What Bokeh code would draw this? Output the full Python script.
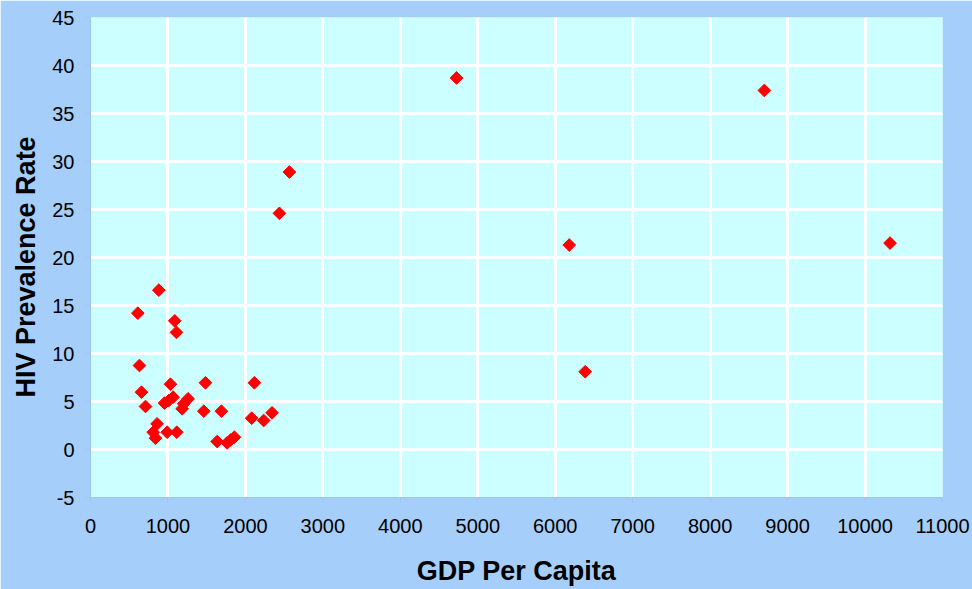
import numpy as np
from bokeh.plotting import figure
from bokeh.models import ColumnDataSource, FixedTicker, Range1d, Title
from bokeh.embed import file_html
from bokeh.resources import INLINE

# GDP per capita (x) and HIV prevalence rate (y)
gdp = [4726, 8700, 10323, 6181, 6387, 2568, 2439,
       882, 611, 1088, 1110, 632, 1032, 1484, 2116, 658, 710,
       1067, 1011, 955, 1260, 1204, 1183, 1463, 1690, 2081, 2236, 2344,
       860, 809, 839, 990, 1114, 1635, 1764, 1810, 1858]
hiv = [38.7, 37.4, 21.5, 21.3, 8.1, 28.9, 24.6,
       16.6, 14.2, 13.4, 12.2, 8.75, 6.8, 6.95, 6.95, 5.97, 4.48,
       5.45, 5.1, 4.83, 5.28, 4.76, 4.24, 3.99, 3.99, 3.26, 3.02, 3.82,
       2.67, 1.8, 1.18, 1.8, 1.8, 0.83, 0.69, 1.0, 1.28]

x_ticks = list(range(0, 11001, 1000))
y_ticks = list(range(-5, 46, 5))

src = ColumnDataSource(dict(x=gdp, y=hiv))

p = figure(width=972, height=589, output_backend="svg", toolbar_location=None,
           x_range=Range1d(0, 11000), y_range=Range1d(-5, 45),
           min_border_left=90, min_border_right=30, min_border_top=17, min_border_bottom=92)

p.border_fill_color = "#A6CEFB"
p.background_fill_color = "#CCFFFF"
p.outline_line_color = None

p.scatter("x", "y", source=src, marker="square", size=9, angle=np.pi / 4,
          fill_color="#FF0000", line_color="#FF0000")

p.xaxis.ticker = FixedTicker(ticks=x_ticks)
p.yaxis.ticker = FixedTicker(ticks=y_ticks)
p.yaxis.major_label_overrides = {t: str(t) for t in y_ticks}

for g in (p.xgrid, p.ygrid):
    g.grid_line_color = "white"
    g.grid_line_width = 3

for ax in (p.xaxis, p.yaxis):
    ax.axis_line_color = "#9CC6F2"
    ax.major_tick_line_color = "#9CC6F2"
    ax.major_tick_out = 5
    ax.major_tick_in = 0
    ax.minor_tick_line_color = None
    ax.major_label_text_font = "Liberation Sans"
    ax.major_label_text_font_size = "20px"
    ax.major_label_text_color = "black"
    ax.axis_label_text_font = "Liberation Sans"
    ax.axis_label_text_font_style = "bold"
    ax.axis_label_text_font_size = "27px"
    ax.axis_label_text_color = "black"

p.xaxis.axis_label = "GDP Per Capita"
p.xaxis.major_label_standoff = 16
p.xaxis.axis_label_standoff = 20
p.yaxis.major_label_standoff = 11

ytitle = Title(text="HIV Prevalence Rate", align="left", offset=100, standoff=17,
               text_font="Liberation Sans", text_font_style="bold",
               text_font_size="27px", text_color="black")
p.add_layout(ytitle, "left")

open("out.html", "w").write(file_html(p, INLINE))
